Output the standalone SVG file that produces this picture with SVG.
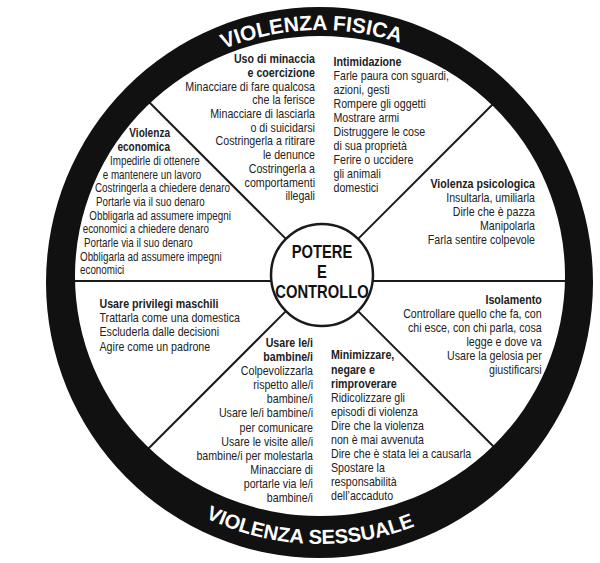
<svg xmlns="http://www.w3.org/2000/svg" width="600" height="563" viewBox="0 0 600 563">
<style>
text{font-family:"Liberation Sans",Arial,sans-serif;fill:#222}
.b{font-size:13px}
.h{font-size:13px;font-weight:bold}
.e{font-size:12px}
.eh{font-size:12.3px;font-weight:bold}
.c{font-size:18px;font-weight:bold;text-anchor:middle;fill:#111}
.r{font-size:21px;font-weight:bold;fill:#fff}
.end{text-anchor:end}
.sp{stroke:#1a1a1a;stroke-width:2;fill:none}
</style>
<defs>
<path id="arcTop" d="M 68,282 A 252,252 0 0 1 572,282"/>
<path id="arcBot" d="M 58,282 A 262,262 0 0 0 582,282"/>
</defs>
<rect width="600" height="563" fill="#fff"/>
<g id="connectors">
<line class="sp" x1="285.9" y1="238.9" x2="142" y2="95"/>
<line class="sp" x1="358.1" y1="238.9" x2="502" y2="95"/>
<line class="sp" x1="285.9" y1="311.1" x2="142" y2="455"/>
<line class="sp" x1="358.1" y1="311.1" x2="502" y2="455"/>
<line class="sp" x1="68" y1="281" x2="271.4" y2="281"/>
<line class="sp" x1="372.6" y1="281" x2="572" y2="281"/>
</g>
<g id="ring">
<path fill="#111" fill-rule="evenodd" d="M 46,282.5 A 273.5,275.5 0 1 0 593,282.5 A 273.5,275.5 0 1 0 46,282.5 Z M 75,276 A 245,240 0 1 0 565,276 A 245,240 0 1 0 75,276 Z"/>
<text class="r"><textPath href="#arcTop" startOffset="48.9%" text-anchor="middle">VIOLENZA FISICA</textPath></text>
<text class="r" style="font-size:20.2px"><textPath href="#arcBot" startOffset="48.7%" text-anchor="middle">VIOLENZA SESSUALE</textPath></text>
</g>
<g id="center">
<circle cx="322" cy="275" r="51" fill="#fff" stroke="#1a1a1a" stroke-width="2.5"/>
<g transform="translate(322,0) scale(0.82,1)">
<text class="c" x="0" y="258.3">POTERE</text>
<text class="c" x="0" y="278.3">E</text>
<text class="c" x="0" y="298.3">CONTROLLO</text>
</g>
</g>
<g id="minaccia" transform="translate(315,0) scale(0.82,1)">
<text class="h end" x="0" y="63.3">Uso di minaccia</text>
<text class="h end" x="0" y="77">e coercizione</text>
<text class="b end" x="0" y="90.7">Minacciare di fare qualcosa</text>
<text class="b end" x="0" y="104.4">che la ferisce</text>
<text class="b end" x="0" y="118.1">Minacciare di lasciarla</text>
<text class="b end" x="0" y="131.8">o di suicidarsi</text>
<text class="b end" x="0" y="145.5">Costringerla a ritirare</text>
<text class="b end" x="0" y="159.2">le denunce</text>
<text class="b end" x="0" y="172.9">Costringerla a</text>
<text class="b end" x="0" y="186.6">comportamenti</text>
<text class="b end" x="0" y="200.3">illegali</text>
</g>
<g id="intimidazione" transform="translate(333.5,0) scale(0.82,1)">
<text class="h" x="0" y="66.5">Intimidazione</text>
<text class="b" x="0" y="80.4">Farle paura con sguardi,</text>
<text class="b" x="0" y="94.3">azioni, gesti</text>
<text class="b" x="0" y="108.2">Rompere gli oggetti</text>
<text class="b" x="0" y="122.1">Mostrare armi</text>
<text class="b" x="0" y="136">Distruggere le cose</text>
<text class="b" x="0" y="149.9">di sua proprietà</text>
<text class="b" x="0" y="163.8">Ferire o uccidere</text>
<text class="b" x="0" y="177.7">gli animali</text>
<text class="b" x="0" y="191.6">domestici</text>
</g>
<g id="economica" transform="translate(80,0) scale(0.82,1)">
<text class="eh end" x="109.8" y="137.3">Violenza</text>
<text class="eh end" x="109.8" y="150.9">economica</text>
<text class="e" x="36.6" y="165">Impedirle di ottenere</text>
<text class="e" x="27.7" y="178.6">e mantenere un lavoro</text>
<text class="e" x="18.3" y="192.3">Costringerla a chiedere denaro</text>
<text class="e" x="19.5" y="206">Portarle via il suo denaro</text>
<text class="e" x="11.3" y="219.7">Obbligarla ad assumere impegni</text>
<text class="e" x="3.3" y="233.4">economici a chiedere denaro</text>
<text class="e" x="4.9" y="247.1">Portarle via il suo denaro</text>
<text class="e" x="0" y="260.8">Obbligarla ad assumere impegni</text>
<text class="e" x="0" y="274.5">economici</text>
</g>
<g id="psicologica" transform="translate(535,0) scale(0.82,1)">
<text class="h end" x="0" y="188.5">Violenza psicologica</text>
<text class="b end" x="0" y="202.4">Insultarla, umiliarla</text>
<text class="b end" x="0" y="216.3">Dirle che è pazza</text>
<text class="b end" x="0" y="230.2">Manipolarla</text>
<text class="b end" x="0" y="244.1">Farla sentire colpevole</text>
</g>
<g id="isolamento" transform="translate(541.7,0) scale(0.82,1)">
<text class="h end" x="0" y="304">Isolamento</text>
<text class="b end" x="0" y="318">Controllare quello che fa, con</text>
<text class="b end" x="0" y="332">chi esce, con chi parla, cosa</text>
<text class="b end" x="0" y="346">legge e dove va</text>
<text class="b end" x="0" y="360">Usare la gelosia per</text>
<text class="b end" x="0" y="374">giustificarsi</text>
</g>
<g id="privilegi" transform="translate(99.5,0) scale(0.82,1)">
<text class="h" x="0" y="308.3">Usare privilegi maschili</text>
<text class="b" x="0" y="322.4">Trattarla come una domestica</text>
<text class="b" x="0" y="336.5">Escluderla dalle decisioni</text>
<text class="b" x="0" y="350.6">Agire come un padrone</text>
</g>
<g id="bambini" transform="translate(313,0) scale(0.82,1)">
<text class="h end" x="0" y="347">Usare le/i</text>
<text class="h end" x="0" y="361.1">bambine/i</text>
<text class="b end" x="0" y="375.2">Colpevolizzarla</text>
<text class="b end" x="0" y="389.3">rispetto alle/i</text>
<text class="b end" x="0" y="403.4">bambine/i</text>
<text class="b end" x="0" y="417.5">Usare le/i bambine/i</text>
<text class="b end" x="0" y="431.6">per comunicare</text>
<text class="b end" x="0" y="445.7">Usare le visite alle/i</text>
<text class="b end" x="0" y="459.8">bambine/i per molestarla</text>
<text class="b end" x="0" y="473.9">Minacciare di</text>
<text class="b end" x="0" y="488">portarle via le/i</text>
<text class="b end" x="0" y="502.1">bambine/i</text>
</g>
<g id="minimizzare" transform="translate(331,0) scale(0.82,1)">
<text class="h" x="0" y="359.5">Minimizzare,</text>
<text class="h" x="0" y="373.6">negare e</text>
<text class="h" x="0" y="387.7">rimproverare</text>
<text class="b" x="0" y="401.8">Ridicolizzare gli</text>
<text class="b" x="0" y="415.9">episodi di violenza</text>
<text class="b" x="0" y="430">Dire che la violenza</text>
<text class="b" x="0" y="444.1">non è mai avvenuta</text>
<text class="b" x="0" y="458.2">Dire che è stata lei a causarla</text>
<text class="b" x="0" y="472.3">Spostare la</text>
<text class="b" x="0" y="486.4">responsabilità</text>
<text class="b" x="0" y="500.5">dell’accaduto</text>
</g>
</svg>
